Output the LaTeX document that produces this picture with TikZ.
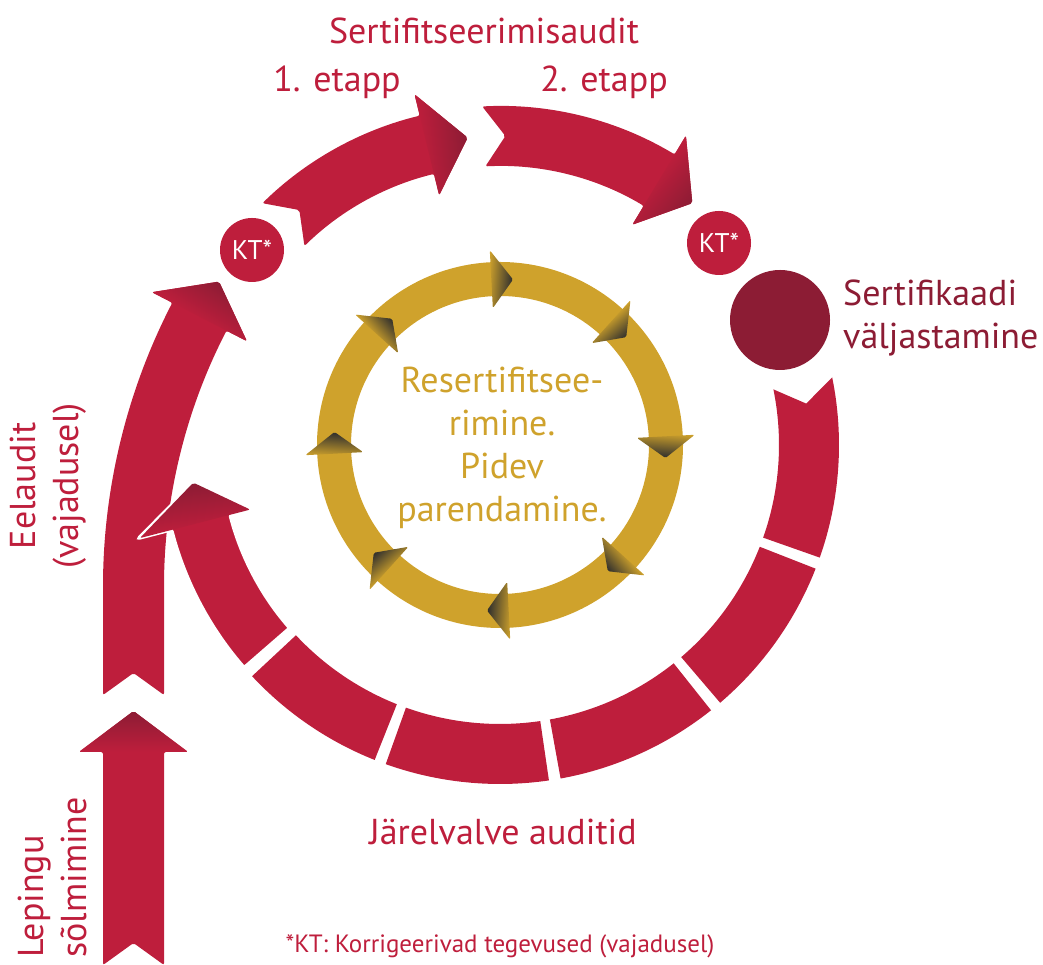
\documentclass[tikz,border=0pt]{standalone}
\usepackage{fontspec}
\setmainfont{PT Sans}

\definecolor{certred}{RGB}{190,30,60}
\definecolor{certdark}{RGB}{140,28,52}
\definecolor{certgold}{RGB}{207,162,44}
\definecolor{golddark}{RGB}{45,45,45}

% ring arrow round the centre: tail angle, notch angle, head base angle, tip angle
\newcommand{\ringarrow}[4]{%
  \begin{scope}[shift={(500,520)}]
    \fill[certred, rounded corners=2pt] (#1:339pt) arc[start angle=#1, end angle=#3, radius=339pt]
      -- (#3:361pt) -- (#4:309pt) -- (#3:257pt) -- (#3:279pt)
      arc[start angle=#3, end angle=#1, radius=279pt] -- (#2:309pt) -- cycle;
  \end{scope}
  \pgfmathsetmacro\headang{#3-#4}
  \begin{scope}[transform canvas={shift={(500,520)}, rotate=#4}]
    \shade[headshade, rounded corners=2pt] (\headang:361pt) -- (0:309pt) -- (\headang:257pt) -- cycle;
  \end{scope}
}

\begin{document}
\begin{tikzpicture}[x=1pt, y=1pt,
  redtext/.style={text=certred, font=\fontsize{36}{43}\selectfont, inner sep=0pt},
  ktcircle/.style={circle, fill=certred, minimum size=64pt, inner sep=0pt, text=white, font=\fontsize{27}{30}\selectfont},
  certcircle/.style={circle, fill=certdark, minimum size=100pt, inner sep=0pt},
  headshade/.style={bottom color=certdark, top color=certred},
  goldshade/.style={bottom color=golddark, top color=certgold}
]
\useasboundingbox (0,0) rectangle (1043,965);

% ---------- gold ring ----------
\begin{scope}[shift={(500,520)}]
  \draw[certgold, line width=34pt] (0,0) circle[radius=166pt];
\end{scope}
\foreach \a in {85.5, 40.5, -4.5, -49.5, -94.5, -139.5, -184.5, -229.5} {
  \begin{scope}[transform canvas={shift={(500,520)}, rotate=\a}]
    \shade[goldshade, rounded corners=1.5pt] (7.5:195pt) -- (0:166pt) -- (7.5:137pt) -- cycle;
  \end{scope}
}

% ---------- Lepingu arrow ----------
\fill[certred, rounded corners=2pt] (103,0) -- (103,213) -- (79,213) -- (133.5,254) -- (188,213)
  -- (164,213) -- (164,0) -- (133.5,22) -- cycle;
\shade[top color=certdark, bottom color=certred, rounded corners=2pt]
  (79,213) -- (133.5,254) -- (188,213) -- cycle;

% ---------- Eelaudit arrow ----------
\begin{scope}[shift={(725,377)}]
  \fill[certred, rounded corners=2pt] (-622,-107) -- (-622,0) arc[start angle=180, end angle=152.7, radius=622pt]
    -- (152.7:645pt) -- (148.8:591.5pt) -- (152.7:538pt) -- (152.7:561pt)
    arc[start angle=152.7, end angle=180, radius=561pt] -- (-561,-107) -- (-591.5,-85) -- cycle;
\end{scope}
\begin{scope}[transform canvas={shift={(725,377)}, rotate=148.8}]
  \shade[headshade, rounded corners=2pt] (3.9:645pt) -- (0:591.5pt) -- (3.9:538pt) -- cycle;
\end{scope}

% ---------- red ring ----------
% 1. etapp
\ringarrow{134.5}{130.5}{103.7}{96}
% 2. etapp
\ringarrow{93}{89}{59}{51.5}
\begin{scope}[shift={(500,520)}]
  % Jarelvalve segments
  \foreach \a/\n/\b in {11.5/7.7/-19.4, -21.4/-21.4/-49.5, -51.5/-51.5/-79.7, -81.7/-81.7/-109.7, -111.7/-111.7/-137}
    \fill[certred] (\a:339pt) arc[start angle=\a, end angle=\b, radius=339pt]
      -- (\b:279pt) arc[start angle=\b, end angle=\a, radius=279pt] -- (\n:309pt) -- cycle;
  % last arrow, over the Eelaudit arrow
  \filldraw[certred, draw=white, line width=3pt, rounded corners=2pt] (-139:339pt) arc[start angle=-139, end angle=-165.5, radius=339pt]
    -- (-165.5:374pt) -- (-173:309pt) -- (-165.5:256pt) -- (-165.5:279pt)
    arc[start angle=-165.5, end angle=-139, radius=279pt] -- cycle;
\end{scope}
\begin{scope}[transform canvas={shift={(500,520)}, rotate=-173}]
  \shade[headshade, rounded corners=2pt] (7.5:372pt) -- (0:309pt) -- (7.5:258pt) -- cycle;
\end{scope}

% ---------- circles ----------
\node[ktcircle] (ktone) at (252,715) {KT*};
\node[ktcircle] (kttwo) at (719,722) {KT*};
\node[certcircle] (certdot) at (780,645) {};

% ---------- texts ----------
\node[redtext] (title) at (484,934) {Sertifitseerimisaudit};
\node[redtext] (stageone) at (337,883) {1. etapp};
\node[redtext] (stagetwo) at (604,883) {2. etapp};
\node[redtext, text=certdark, align=left, anchor=west] (certtext) at (843,647) {Sertifikaadi\\väljastamine};
\node[redtext, rotate=90, align=center] (pretext) at (48,479) {Eelaudit\\(vajadusel)};
\node[redtext, rotate=90, align=left, anchor=west] (contract) at (52,7) {Lepingu\\sõlmimine};
\node[redtext] (followup) at (503,133) {Järelvalve auditid};
\node[redtext, text=certgold, align=center] (recert) at (502,517) {Resertifitsee-\\rimine.\\Pidev\\parendamine.};
\node[redtext, font=\fontsize{25}{28}\selectfont] (note) at (500,19) {*KT: Korrigeerivad tegevused (vajadusel)};

\end{tikzpicture}
\end{document}
